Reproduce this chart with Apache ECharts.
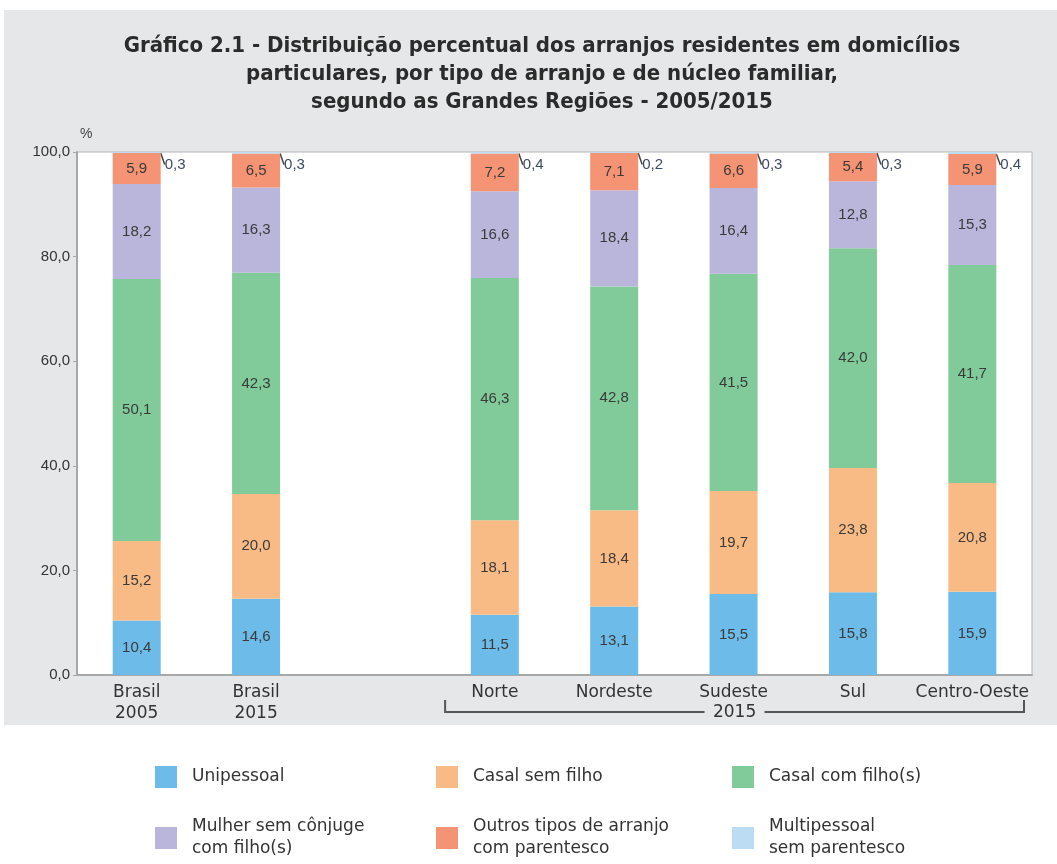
<!DOCTYPE html>
<html>
<head>
<meta charset="utf-8">
<script src="https://cdn.jsdelivr.net/npm/echarts@6/dist/echarts.min.js"></script>
<style>
  html, body { margin: 0; padding: 0; background: #fff; }
  #chart { width: 1057px; height: 864px; }
</style>
</head>
<body>
<div id="chart"></div>
<script>
// categories (empty slot separates Brasil from the regions)
const categories = ['Brasil\n2005', 'Brasil\n2015', '', 'Norte', 'Nordeste', 'Sudeste', 'Sul', 'Centro-Oeste'];
const yTicks = [0, 20, 40, 60, 80, 100];

const unipessoal = [10.4, 14.6, '-', 11.5, 13.1, 15.5, 15.8, 15.9];
const casalSemFilho = [15.2, 20.0, '-', 18.1, 18.4, 19.7, 23.8, 20.8];
const casalComFilho = [50.1, 42.3, '-', 46.3, 42.8, 41.5, 42.0, 41.7];
const mulherSemConjuge = [18.2, 16.3, '-', 16.6, 18.4, 16.4, 12.8, 15.3];
const outrosParentesco = [5.9, 6.5, '-', 7.2, 7.1, 6.6, 5.4, 5.9];
const multipessoal = [0.3, 0.3, '-', 0.4, 0.2, 0.3, 0.3, 0.4];

const bracketLabel = '2015';

const font = 'Liberation Sans, Arial, sans-serif';
const wideFont = 'DejaVu Sans, Liberation Sans, sans-serif';
const fmt = (v) => v.toFixed(1).replace('.', ',');

const myChart = echarts.init(document.getElementById('chart'));

function barSeries(name, data, color) {
  return {
    name: name,
    type: 'bar',
    stack: 'total',
    barWidth: 48,
    data: data,
    itemStyle: { color: color },
    label: {
      show: true,
      position: 'inside',
      color: '#3a3a3a',
      fontFamily: font,
      fontSize: 15,
      formatter: (p) => fmt(p.value),
    },
  };
}

const series = [
  barSeries('Unipessoal', unipessoal, '#6dbbe8'),
  barSeries('Casal sem filho', casalSemFilho, '#f9bb85'),
  barSeries('Casal com filho(s)', casalComFilho, '#80cb99'),
  barSeries('Mulher sem cônjuge com filho(s)', mulherSemConjuge, '#bab5da'),
  barSeries('Outros tipos de arranjo com parentesco', outrosParentesco, '#f59375'),
  barSeries('Multipessoal sem parentesco', multipessoal, '#bcdcf4'),
];
// the tiny top segment gets its label outside, to the right, with a short leader
series[5].label = {
  show: true,
  position: 'right',
  distance: 4,
  offset: [0, 12],
  color: '#3d4a66',
  fontFamily: font,
  fontSize: 15,
  formatter: (p) => fmt(p.value),
};
series[5].labelLine = {
  show: true,
  smooth: 0.4,
  length2: 0,
  lineStyle: { color: '#444', width: 1.5 },
};

const legendNames = {
  'Mulher sem cônjuge com filho(s)': 'Mulher sem cônjuge\ncom filho(s)',
  'Outros tipos de arranjo com parentesco': 'Outros tipos de arranjo\ncom parentesco',
  'Multipessoal sem parentesco': 'Multipessoal\nsem parentesco',
};
const legendPos = [[150, 761], [431, 761], [727, 761], [150, 811], [431, 811], [727, 811]];
const legends = series.map((s, i) => ({
  data: [s.name],
  left: legendPos[i][0],
  top: legendPos[i][1],
  itemWidth: 22,
  itemHeight: 22,
  icon: 'rect',
  selectedMode: false,
  formatter: (n) => legendNames[n] || n,
  textStyle: {
    fontFamily: wideFont,
    fontSize: 17,
    color: '#333',
    lineHeight: 22,
    padding: [0, 0, 0, 10],
  },
}));

const option = {
  backgroundColor: '#fff',
  animation: false,
  title: {
    text: 'Gráfico 2.1 - Distribuição percentual dos arranjos residentes em domicílios\nparticulares, por tipo de arranjo e de núcleo familiar,\nsegundo as Grandes Regiões - 2005/2015',
    left: 537,
    top: 27,
    textAlign: 'center',
    textStyle: {
      fontFamily: 'Liberation Sans Narrow, DejaVu Sans Condensed, sans-serif',
      fontWeight: 'bold',
      fontSize: 22,
      lineHeight: 28,
      color: '#2b2b2b',
    },
  },
  legend: legends,
  grid: {
    left: 77,
    right: 25,
    top: 152,
    bottom: 189,
    show: true,
    backgroundColor: '#fff',
    borderColor: '#b4b4b4',
    borderWidth: 1,
  },
  xAxis: {
    type: 'category',
    data: categories,
    axisLine: { lineStyle: { color: '#a8a8a8', width: 2 } },
    axisTick: { show: false },
    axisLabel: {
      fontFamily: wideFont,
      fontSize: 17,
      color: '#333',
      lineHeight: 21,
      margin: 7,
      interval: 0,
    },
  },
  yAxis: {
    type: 'value',
    min: yTicks[0],
    max: yTicks[yTicks.length - 1],
    interval: 20,
    name: '%',
    nameLocation: 'end',
    nameGap: 11,
    nameTextStyle: { fontFamily: font, fontSize: 14, color: '#444', align: 'left', padding: [0, 0, 0, 3] },
    splitLine: { show: false },
    axisLine: { show: true, lineStyle: { color: '#a8a8a8', width: 2 } },
    axisTick: { show: true, length: 4, lineStyle: { color: '#a8a8a8' } },
    axisLabel: {
      fontFamily: font,
      fontSize: 15,
      color: '#333',
      margin: 7,
      formatter: (v) => fmt(v),
    },
  },
  series: series,
};

myChart.setOption(option);

// grey panel behind the chart and bracket under the regions, placed from the axis
const bandHalf = (myChart.convertToPixel({ xAxisIndex: 0 }, categories[4]) - myChart.convertToPixel({ xAxisIndex: 0 }, categories[3])) / 2;
const x0 = myChart.convertToPixel({ xAxisIndex: 0 }, 'Norte') - bandHalf + 10;
const x1 = myChart.convertToPixel({ xAxisIndex: 0 }, 'Centro-Oeste') + bandHalf - 8;
const yB = 712;
const xm = (x0 + x1) / 2;
myChart.setOption({
  graphic: [
    { type: 'rect', z: -10, silent: true, shape: { x: 4, y: 10, width: 1053, height: 715 }, style: { fill: '#e6e7e8' } },
    { type: 'polyline', shape: { points: [[x0, yB - 12], [x0, yB], [xm - 30, yB]] }, style: { stroke: '#555', lineWidth: 2, fill: null } },
    { type: 'polyline', shape: { points: [[xm + 30, yB], [x1, yB], [x1, yB - 12]] }, style: { stroke: '#555', lineWidth: 2, fill: null } },
    { type: 'text', x: xm, y: yB + 1, style: { text: bracketLabel, fontFamily: wideFont, fontSize: 17, fill: '#333', align: 'center', verticalAlign: 'middle' } },
  ],
});

window.addEventListener('resize', () => {
  myChart.resize();
});
</script>
</body>
</html>
